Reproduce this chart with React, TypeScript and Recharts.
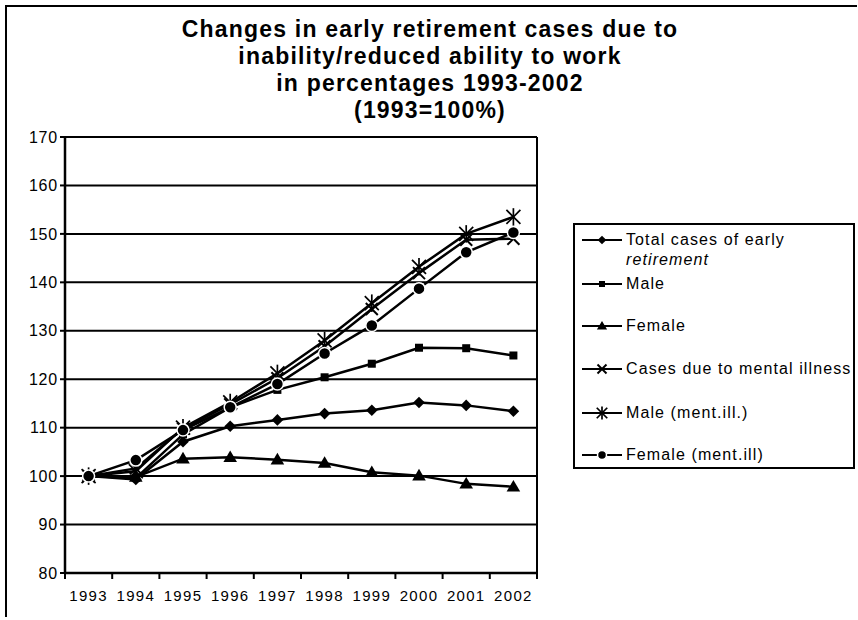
// Early retirement cases (1993 = 100%) line chart

import React from 'react'
import { LineChart, Line, XAxis, YAxis, CartesianGrid } from 'recharts'

const years = ['1993', '1994', '1995', '1996', '1997', '1998', '1999', '2000', '2001', '2002']
const totalCases = [100, 99.3, 107.1, 110.3, 111.6, 112.9, 113.6, 115.2, 114.6, 113.4]
const maleCases = [100, 99.6, 108.6, 114.2, 117.8, 120.4, 123.2, 126.5, 126.4, 124.9]
const femaleCases = [100, 99.8, 103.6, 103.9, 103.4, 102.7, 100.8, 100.1, 98.4, 97.8]
const mentalCases = [100, 101.6, 109.8, 114.8, 120.2, 126.8, 134.5, 141.9, 148.8, 149.0]
const maleMental = [100, 101.0, 110.0, 115.2, 121.2, 128.0, 135.7, 143.2, 150.0, 153.5]
const femaleMental = [100, 103.3, 109.5, 114.2, 119.0, 125.3, 131.1, 138.7, 146.2, 150.3]
const yTicks = [80, 90, 100, 110, 120, 130, 140, 150, 160, 170]
const titleLines = [
  'Changes in early retirement cases due to',
  'inability/reduced ability to work',
  'in percentages 1993-2002',
  '(1993=100%)',
]

type Shape = 'diamond' | 'square' | 'triangle' | 'cross' | 'star' | 'circle'

const SERIES: { key: string; label: string; label2?: string; values: number[]; shape: Shape }[] = [
  { key: 'total', label: 'Total cases of early', label2: 'retirement', values: totalCases, shape: 'diamond' },
  { key: 'male', label: 'Male', values: maleCases, shape: 'square' },
  { key: 'female', label: 'Female', values: femaleCases, shape: 'triangle' },
  { key: 'mental', label: 'Cases due to mental illness', values: mentalCases, shape: 'cross' },
  { key: 'maleMental', label: 'Male (ment.ill.)', values: maleMental, shape: 'star' },
  { key: 'femaleMental', label: 'Female (ment.ill)', values: femaleMental, shape: 'circle' },
]

const data = years.map((year, i) => {
  const row: Record<string, number | string> = { x: i + 0.5, year }
  SERIES.forEach((s) => {
    row[s.key] = s.values[i]
  })
  return row
})

const xTicks = Array.from({ length: years.length * 2 + 1 }, (_, i) => i / 2)

const FONT = '"Liberation Sans", Arial, Helvetica, sans-serif'

const Marker = ({ shape, cx, cy, k = 1 }: { shape: Shape; cx: number; cy: number; k?: number }) => {
  if (cx == null || cy == null) return null
  switch (shape) {
    case 'diamond': {
      const r = 5.8 * k
      return <polygon points={`${cx},${cy - r} ${cx + r},${cy} ${cx},${cy + r} ${cx - r},${cy}`} fill="#000" />
    }
    case 'square': {
      const r = 4 * k
      return <rect x={cx - r} y={cy - r} width={r * 2} height={r * 2} fill="#000" />
    }
    case 'triangle': {
      const r = 6.8 * k
      return <polygon points={`${cx},${cy - r} ${cx + r},${cy + r * 0.7} ${cx - r},${cy + r * 0.7}`} fill="#000" />
    }
    case 'cross': {
      const r = 6 * k
      return (
        <g stroke="#000" strokeWidth={2}>
          <line x1={cx - r} y1={cy - r} x2={cx + r} y2={cy + r} />
          <line x1={cx - r} y1={cy + r} x2={cx + r} y2={cy - r} />
        </g>
      )
    }
    case 'star': {
      const r = 7 * k
      return (
        <g stroke="#000" strokeWidth={1.7}>
          <line x1={cx - r} y1={cy - r} x2={cx + r} y2={cy + r} />
          <line x1={cx - r} y1={cy + r} x2={cx + r} y2={cy - r} />
          <line x1={cx} y1={cy - r * 1.25} x2={cx} y2={cy + r * 1.25} />
        </g>
      )
    }
    case 'circle':
    default:
      return <circle cx={cx} cy={cy} r={6 * k} fill="#000" stroke="#fff" strokeWidth={1.5} />
  }
}

const XTick = (props: any) => {
  const { x, y, payload } = props
  const v = payload.value as number
  if (Number.isInteger(v)) {
    return <line x1={x} x2={x} y1={y} y2={y + 6} stroke="#000" strokeWidth={2} />
  }
  return (
    <text x={x} y={y + 28} textAnchor="middle" fontSize={15} letterSpacing={1.3} fill="#000" fontFamily={FONT}>
      {years[Math.floor(v)]}
    </text>
  )
}

const legendTops = [15, 59, 101, 144, 188, 230]

export default function App() {
  return (
    <div
      style={{
        position: 'absolute',
        left: 0,
        top: 0,
        width: 858,
        height: 620,
        background: '#fff',
        fontFamily: FONT,
        color: '#000',
      }}
    >
      <div
        style={{
          position: 'absolute',
          left: 5,
          top: 5,
          width: 850,
          height: 610,
          borderLeft: '2px solid #000',
          borderTop: '2px solid #000',
        }}
      />

      <div
        style={{
          position: 'absolute',
          left: 430,
          top: 16,
          transform: 'translateX(-50%)',
          whiteSpace: 'nowrap',
          textAlign: 'center',
          fontSize: 23,
          fontWeight: 'bold',
          letterSpacing: 1.2,
          lineHeight: '27px',
        }}
      >
        {titleLines.map((t) => (
          <div key={t}>{t}</div>
        ))}
      </div>

      <div style={{ position: 'absolute', left: 0, top: 0 }}>
        <LineChart width={858} height={620} data={data} margin={{ top: 137, right: 321, left: 25, bottom: 17 }}>
          <CartesianGrid
            stroke="#000"
            strokeWidth={2}
            verticalCoordinatesGenerator={({ offset }: any) => [offset.left + offset.width]}
          />
          <XAxis
            dataKey="x"
            type="number"
            domain={[0, years.length]}
            ticks={xTicks}
            interval={0}
            tickSize={0}
            tickMargin={0}
            tickLine={false}
            tick={<XTick />}
            height={30}
            axisLine={{ stroke: '#000', strokeWidth: 2.5 }}
          />
          <YAxis
            domain={[80, 170]}
            ticks={yTicks}
            interval={0}
            width={40}
            tickSize={5}
            tickLine={{ stroke: '#000', strokeWidth: 2 }}
            axisLine={{ stroke: '#000', strokeWidth: 2.5 }}
            tick={{ fontSize: 16, fill: '#000', fontFamily: FONT, letterSpacing: 0.8 }}
          />
          {SERIES.map((s) => (
            <Line
              key={s.key}
              dataKey={s.key}
              type="linear"
              stroke="#000"
              strokeWidth={2.5}
              isAnimationActive={false}
              dot={(p: any) => <Marker key={`${s.key}-${p.index}`} shape={s.shape} cx={p.cx} cy={p.cy} />}
              activeDot={false}
            />
          ))}
        </LineChart>
      </div>

      <div
        style={{
          position: 'absolute',
          left: 573,
          top: 223,
          width: 282,
          height: 246,
          border: '2px solid #000',
          boxSizing: 'border-box',
        }}
      >
        {SERIES.map((s, i) => (
          <div key={s.key} style={{ position: 'absolute', left: 5, top: legendTops[i] - 10, whiteSpace: 'nowrap' }}>
            <svg width={44} height={20} style={{ position: 'absolute', left: 0, top: 0 }}>
              <line x1={2} x2={42} y1={10} y2={10} stroke="#000" strokeWidth={2} />
              <Marker shape={s.shape} cx={22} cy={10} k={0.75} />
            </svg>
            <div style={{ position: 'absolute', left: 46, top: 0, fontSize: 16, letterSpacing: 1.1, lineHeight: '20px' }}>
              {s.label}
              {s.label2 && <div style={{ fontStyle: 'italic' }}>{s.label2}</div>}
            </div>
          </div>
        ))}
      </div>
    </div>
  )
}
